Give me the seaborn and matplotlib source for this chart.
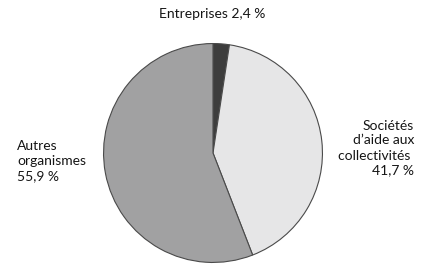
import matplotlib
matplotlib.use("Agg")
import matplotlib.pyplot as plt
import seaborn as sns

categories = ["Entreprises", "Sociétés d'aide aux collectivités", "Autres organismes"]
values = [2.4, 41.7, 55.9]
label_texts = ["Entreprises 2,4 %", "Sociétés\nd’aide aux\ncollectivités \n41,7 %", "Autres\norganismes\n55,9 %"]
colors = ["#3d3d3d", "#e6e6e7", "#a1a1a2"]

sns.set_theme(style="white")
plt.rcParams['font.family'] = ['Lato', 'DejaVu Sans']

fig = plt.figure(figsize=(4.38, 2.68), dpi=100)
W, H = 438, 268
cx, cy, r = 213, 153, 110
ax = fig.add_axes([(cx - r) / W, (H - cy - r) / H, 2 * r / W, 2 * r / H])
ax.pie(values, colors=colors, startangle=90, counterclock=False,
       wedgeprops=dict(edgecolor="#4a4a4a", linewidth=0.8))
ax.set_xlim(-1.005, 1.005)
ax.set_ylim(-1.005, 1.005)
ax.set_aspect("equal")
ax.axis("off")

fs = 10
tc = "#151515"
fig.text(212 / W, 1 - 14 / H, label_texts[0], ha="center", va="center", fontsize=fs, color=tc)
fig.text(17 / W, 1 - 161 / H, label_texts[2], ha="left", va="center", fontsize=fs,
         color=tc, linespacing=1.3)
fig.text(414 / W, 1 - 148 / H, label_texts[1], ha="right", va="center", fontsize=fs,
         color=tc, linespacing=1.3, multialignment="right")

fig.savefig("out.png", dpi=100)
